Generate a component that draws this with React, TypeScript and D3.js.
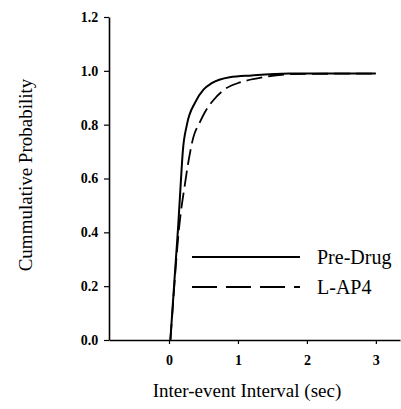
import React, { useEffect, useRef } from 'react';
import * as d3 from 'd3';

// interval (sec) vs cumulative probability
const preDrugX = [0.02, 0.06, 0.1, 0.13, 0.17, 0.2, 0.26, 0.38, 0.5, 0.62, 0.88, 1.2, 1.75, 3.0];
const preDrugY = [0, 0.15, 0.3, 0.41, 0.58, 0.7, 0.8, 0.883, 0.93, 0.954, 0.976, 0.983, 0.99, 0.99];
const lap4X = [0.02, 0.06, 0.1, 0.14, 0.17, 0.22, 0.28, 0.35, 0.45, 0.52, 0.64, 0.8, 1.03, 1.28, 1.8, 3.0];
const lap4Y = [0, 0.14, 0.28, 0.4, 0.47, 0.56, 0.66, 0.75, 0.81, 0.846, 0.89, 0.93, 0.957, 0.972, 0.988, 0.99];
const xTicks = [0, 1, 2, 3];
const yTicks = [0, 0.2, 0.4, 0.6, 0.8, 1.0, 1.2];
const seriesNames = ['Pre-Drug', 'L-AP4'];

const W = 401;
const H = 409;
const FONT = '"Liberation Serif", "Times New Roman", serif';

export default function App() {
  const svgRef = useRef<SVGSVGElement>(null);

  useEffect(() => {
    if (!svgRef.current) return;
    const svg = d3.select(svgRef.current);
    svg.selectAll('*').remove();

    const x = d3.scaleLinear().domain([-0.87, 3.35]).range([109, 400]);
    const y = d3.scaleLinear().domain([0, 1.2]).range([340, 17]);

    // Axes
    const gx = svg.append('g')
      .attr('transform', `translate(0,${y(0)})`)
      .call(d3.axisBottom(x).tickValues(xTicks).tickSize(4).tickSizeOuter(0).tickFormat(d3.format('d')));
    const gy = svg.append('g')
      .attr('transform', `translate(${x.range()[0]},0)`)
      .call(d3.axisLeft(y).tickValues(yTicks).tickSize(5).tickSizeOuter(0).tickFormat(d3.format('.1f')));

    [gx, gy].forEach(g => {
      g.attr('font-family', FONT);
      g.select('.domain').attr('stroke', '#000').attr('stroke-width', 1.6);
      g.selectAll('.tick line').attr('stroke', '#000').attr('stroke-width', 1.2);
      g.selectAll('.tick text')
        .attr('fill', '#000')
        .attr('font-family', FONT)
        .attr('font-weight', 'bold')
        .attr('font-size', 14);
    });
    gx.selectAll('.tick text').attr('dy', '1.25em');
    gy.selectAll('.tick text').attr('dx', '-0.2em');

    // Curves
    const line = d3.line<[number, number]>()
      .x(d => x(d[0]))
      .y(d => y(d[1]))
      .curve(d3.curveMonotoneX);

    const pre = preDrugX.map((v, i) => [v, preDrugY[i]] as [number, number]);
    const drug = lap4X.map((v, i) => [v, lap4Y[i]] as [number, number]);

    svg.append('path')
      .datum(drug)
      .attr('d', line)
      .attr('fill', 'none')
      .attr('stroke', '#000')
      .attr('stroke-width', 1.8)
      .attr('stroke-dasharray', '16,6');

    svg.append('path')
      .datum(pre)
      .attr('d', line)
      .attr('fill', 'none')
      .attr('stroke', '#000')
      .attr('stroke-width', 2);

    // Legend
    const legend = svg.append('g').attr('transform', 'translate(192,257)');
    seriesNames.forEach((name, i) => {
      const row = legend.append('g').attr('transform', `translate(0,${i * 30})`);
      row.append('line')
        .attr('x1', 0).attr('x2', 108)
        .attr('stroke', '#000')
        .attr('stroke-width', 1.8)
        .attr('stroke-dasharray', i === 1 ? '25,9' : null);
      row.append('text')
        .attr('x', 125)
        .attr('y', 7)
        .attr('font-family', FONT)
        .attr('font-size', 20)
        .text(name);
    });

    // Axis titles
    svg.append('text')
      .attr('x', 247)
      .attr('y', 397)
      .attr('text-anchor', 'middle')
      .attr('font-family', FONT)
      .attr('font-size', 19)
      .text('Inter-event Interval (sec)');

    svg.append('text')
      .attr('transform', 'translate(32,175) rotate(-90)')
      .attr('text-anchor', 'middle')
      .attr('font-family', FONT)
      .attr('font-size', 19)
      .text('Cummulative Probability');
  }, []);

  return (
    <svg
      ref={svgRef}
      width={W}
      height={H}
      style={{ position: 'absolute', left: 0, top: 0, background: '#fff' }}
    />
  );
}
